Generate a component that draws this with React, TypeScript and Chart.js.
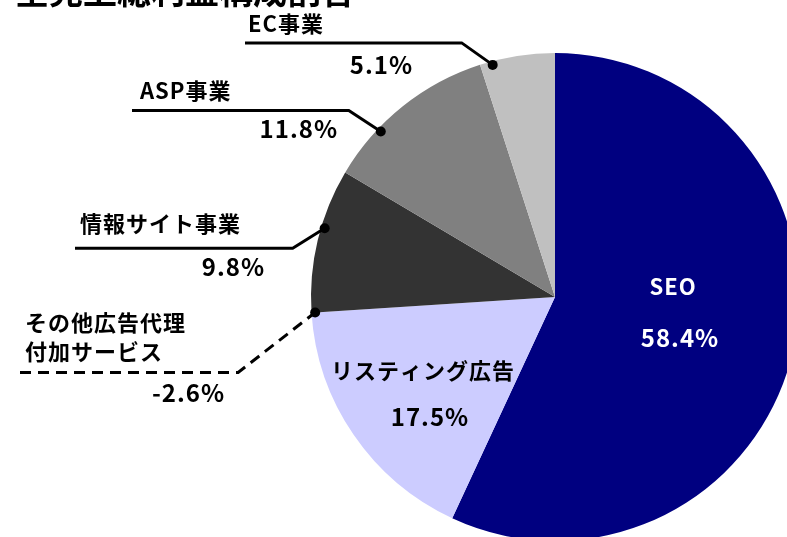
import React, { useEffect, useRef } from "react";
import { Chart, registerables } from "chart.js";

Chart.register(...registerables);

// ---- data ----
const categories = ["SEO", "リスティング広告", "その他広告代理付加サービス", "情報サイト事業", "ASP事業", "EC事業"];
const labelLines = [["SEO"], ["リスティング広告"], ["その他広告代理", "付加サービス"], ["情報サイト事業"], ["ASP事業"], ["EC事業"]];
const shares = [58.4, 17.5, -2.6, 9.8, 11.8, 5.1];
const sliceColors = ["#000080", "#CCCCFF", "#FFFFFF", "#333333", "#808080", "#C0C0C0"];
const chartTitle = "全売上総利益構成割合";

// ---- label layout (styling only) ----
type Layout = {
  kind: "inside" | "leader";
  color: string;
  nameX: number; nameY: number[]; nameAlign: CanvasTextAlign;
  valX: number; valY: number; valAlign: CanvasTextAlign;
  t?: number; elbowDx?: number; elbowDy?: number; lineLeft?: number; dashed?: boolean;
};
const layouts: Layout[] = [
  { kind: "inside", color: "#ffffff", nameX: 673, nameY: [287], nameAlign: "center", valX: 680, valY: 338, valAlign: "center" },
  { kind: "inside", color: "#000000", nameX: 423, nameY: [371], nameAlign: "center", valX: 430, valY: 417, valAlign: "center" },
  { kind: "leader", color: "#000000", nameX: 25, nameY: [323, 352], nameAlign: "left", valX: 225, valY: 393, valAlign: "right", t: 0, elbowDx: -77, elbowDy: 60, lineLeft: 20, dashed: true },
  { kind: "leader", color: "#000000", nameX: 80, nameY: [224], nameAlign: "left", valX: 265, valY: 267, valAlign: "right", t: 0.59, elbowDx: -32, elbowDy: 20, lineLeft: 75 },
  { kind: "leader", color: "#000000", nameX: 140, nameY: [91], nameAlign: "left", valX: 338, valY: 129, valAlign: "right", t: 0.31, elbowDx: -32, elbowDy: -21, lineLeft: 132 },
  { kind: "leader", color: "#000000", nameX: 248, nameY: [24], nameAlign: "left", valX: 413, valY: 65, valAlign: "right", t: 0.16, elbowDx: -31, elbowDy: -22, lineLeft: 245 },
];

const FONT = '"Noto Sans CJK JP", "Noto Sans", sans-serif';

const labelPlugin = {
  id: "pieLabels",
  afterDatasetsDraw(chart: any) {
    const ctx: CanvasRenderingContext2D = chart.ctx;
    const meta = chart.getDatasetMeta(0);
    ctx.save();
    // title (cropped at top)
    ctx.fillStyle = "#000";
    ctx.font = `bold 34px ${FONT}`;
    ctx.textAlign = "left";
    ctx.textBaseline = "alphabetic";
    ctx.fillText(chartTitle, 15, 4);

    meta.data.forEach((arc: any, i: number) => {
      const L = layouts[i];
      const p = arc.getProps(["x", "y", "startAngle", "endAngle", "outerRadius"], true);
      if (L.kind === "leader") {
        const a = p.startAngle + (L.t ?? 0.5) * (p.endAngle - p.startAngle);
        const r = p.outerRadius * 0.985;
        const dx = p.x + Math.cos(a) * r;
        const dy = p.y + Math.sin(a) * r;
        const ex = dx + (L.elbowDx ?? 0);
        const ey = dy + (L.elbowDy ?? 0);
        ctx.strokeStyle = "#000";
        ctx.lineWidth = 3;
        ctx.setLineDash(L.dashed ? [11, 7] : []);
        ctx.beginPath();
        ctx.moveTo(L.lineLeft ?? 0, ey);
        ctx.lineTo(ex, ey);
        ctx.lineTo(dx, dy);
        ctx.stroke();
        ctx.setLineDash([]);
        ctx.fillStyle = "#000";
        ctx.beginPath();
        ctx.arc(dx, dy, 5, 0, Math.PI * 2);
        ctx.fill();
      }
      ctx.fillStyle = L.color;
      ctx.textBaseline = "middle";
      ctx.font = `bold 22px ${FONT}`;
      (ctx as any).letterSpacing = "1px";
      ctx.textAlign = L.nameAlign;
      labelLines[i].forEach((line, k) => ctx.fillText(line, L.nameX, L.nameY[k]));
      ctx.font = `bold 24px ${FONT}`;
      (ctx as any).letterSpacing = "1px";
      ctx.textAlign = L.valAlign;
      ctx.fillText(`${shares[i].toFixed(1)}%`, L.valX, L.valY);
      (ctx as any).letterSpacing = "0px";
    });
    ctx.restore();
  },
};

export default function App() {
  const ref = useRef<HTMLCanvasElement | null>(null);
  useEffect(() => {
    if (!ref.current) return;
    const chart = new Chart(ref.current, {
      type: "pie",
      data: {
        labels: categories,
        datasets: [
          {
            data: shares.map((v) => Math.max(v, 0)),
            backgroundColor: sliceColors,
            borderWidth: 0,
            radius: 244,
          } as any,
        ],
      },
      options: {
        animation: false,
        responsive: false,
        layout: { padding: { left: 323, top: 57, right: 0, bottom: 0 } },
        plugins: {
          legend: { display: false },
          title: { display: false },
          tooltip: { enabled: false },
        },
      },
      plugins: [labelPlugin],
    });
    return () => chart.destroy();
  }, []);
  return (
    <div style={{ position: "fixed", left: 0, top: 0, width: 787, height: 537, background: "#fff" }}>
      <canvas ref={ref} width={787} height={537} />
    </div>
  );
}
